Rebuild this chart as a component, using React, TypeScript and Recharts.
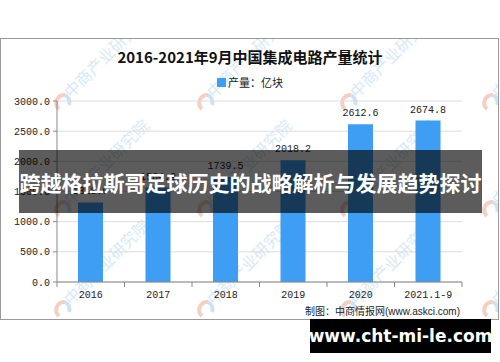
import { BarChart, Bar, XAxis, YAxis, CartesianGrid, LabelList } from 'recharts';

const years = ['2016', '2017', '2018', '2019', '2020', '2021.1-9'];
const output = [1318.0, 1564.9, 1739.5, 2018.2, 2612.6, 2674.8];
const yTicks = [0, 500, 1000, 1500, 2000, 2500, 3000];

const data = years.map((year, i) => ({ year, output: output[i] }));

const BAR = '#3d9ef4';
const MONO = '"Liberation Mono", "DejaVu Sans Mono", monospace';
const CJK = '"Noto Sans CJK SC", "Noto Sans", sans-serif';

// watermark anchor points (logo positions)
const markCols = [62, 205, 348, 490];
const markRows = [103, 210, 310];

const YearTick = (props: any) => {
  const { x, y, payload, index, visibleTicksCount } = props;
  const half = payload.offset ?? 0;
  const axisY = y - 7;
  return (
    <g>
      <line x1={x - half} x2={x - half} y1={axisY} y2={axisY + 5} stroke="#888" />
      {index === visibleTicksCount - 1 && (
        <line x1={x + half} x2={x + half} y1={axisY} y2={axisY + 5} stroke="#888" />
      )}
      <text x={x} y={y} dy={9} textAnchor="middle" fontSize={10} fontFamily={MONO} fill="#222">
        {payload.value}
      </text>
    </g>
  );
};

const Watermarks = () => (
  <svg width={500} height={362} style={{ position: 'absolute', left: 0, top: 0 }}>
    <defs>
      <clipPath id="frameClip">
        <rect x={1} y={39} width={497} height={280} />
      </clipPath>
    </defs>
    <g clipPath="url(#frameClip)">
      {markRows.map((r) =>
        markCols.map((c) => (
          <g key={`${r}-${c}`}>
            <path d={`M ${c - 3} ${r + 6} A 8 8 0 0 1 ${c + 3} ${r - 8}`} stroke="#f5cfc2" strokeWidth={4} fill="none" />
            <path d={`M ${c + 3} ${r - 8} A 8 8 0 0 1 ${c + 7} ${r + 2}`} stroke="#cfe2f4" strokeWidth={4} fill="none" />
            <text
              transform={`translate(${c + 9},${r - 4}) rotate(-45)`}
              fontSize={16}
              fontFamily={CJK}
              fill="#d8e9f7"
            >
              中商产业研究院
            </text>
          </g>
        ))
      )}
    </g>
  </svg>
);

export default function App() {
  return (
    <div style={{ position: 'absolute', left: 0, top: 0, width: 500, height: 362, background: '#fff', overflow: 'hidden' }}>
      <div
        style={{
          position: 'absolute',
          left: 0,
          top: 38,
          width: 497,
          height: 280,
          border: '1px solid #9a9a9a',
        }}
      />
      <Watermarks />
      <div
        style={{
          position: 'absolute',
          top: 47,
          left: 0,
          width: 500,
          textAlign: 'center',
          fontFamily: CJK,
          fontWeight: 700,
          fontSize: 15,
          lineHeight: '20px',
          color: '#111',
        }}
      >
        2016-2021年9月中国集成电路产量统计
      </div>
      <div style={{ position: 'absolute', left: 217, top: 78, width: 9, height: 9, background: BAR }} />
      <div
        style={{
          position: 'absolute',
          left: 228,
          top: 74,
          fontFamily: CJK,
          fontSize: 11,
          lineHeight: '16px',
          color: '#222',
          whiteSpace: 'nowrap',
        }}
      >
        产量：亿块
      </div>
      <div style={{ position: 'absolute', left: 0, top: 0 }}>
        <BarChart width={500} height={362} data={data} margin={{ top: 101, right: 38, bottom: 50, left: 0 }}>
          <CartesianGrid horizontal vertical={false} stroke="#dcdcdc" />
          <XAxis
            dataKey="year"
            stroke="#888"
            tickLine={false}
            tickSize={5}
            tickMargin={2}
            height={30}
            tick={<YearTick />}
            interval={0}
          />
          <YAxis
            width={57}
            domain={[0, 3000]}
            ticks={yTicks}
            stroke="#888"
            tickSize={4}
            tickMargin={3}
            tickFormatter={(v: number) => v.toFixed(1)}
            tick={{ fontSize: 10, fontFamily: MONO, fill: '#222' }}
          />
          <Bar dataKey="output" fill={BAR} barSize={25} isAnimationActive={false}>
            <LabelList
              dataKey="output"
              position="top"
              offset={8}
              formatter={(v: any) => Number(v).toFixed(1)}
              style={{ fontSize: 10, fontFamily: MONO, fill: '#222' }}
            />
          </Bar>
        </BarChart>
      </div>
      <div
        style={{
          position: 'absolute',
          left: 305,
          top: 304,
          fontFamily: CJK,
          fontSize: 10,
          lineHeight: '14px',
          color: '#222',
          whiteSpace: 'nowrap',
        }}
      >
        制图：中商情报网<span style={{ fontFamily: '"Liberation Sans", Arial, sans-serif' }}>(www.askci.com)</span>
      </div>
      <div
        style={{
          position: 'absolute',
          left: 19,
          top: 150,
          width: 463,
          height: 63,
          background: 'rgba(0,0,0,0.64)',
          display: 'flex',
          alignItems: 'center',
          justifyContent: 'center',
          color: '#fff',
          fontFamily: CJK,
          fontWeight: 700,
          fontSize: 21,
          whiteSpace: 'nowrap',
        }}
      >
        跨越格拉斯哥足球历史的战略解析与发展趋势探讨
      </div>
      <div
        style={{
          position: 'absolute',
          left: 310,
          top: 319,
          width: 181,
          height: 34,
          background: '#000',
          display: 'flex',
          alignItems: 'center',
          justifyContent: 'center',
          color: '#fff',
          fontFamily: '"DejaVu Sans", Verdana, sans-serif',
          fontWeight: 700,
          fontSize: 17,
          whiteSpace: 'nowrap',
        }}
      >
        www.cht-mi-le.com
      </div>
    </div>
  );
}
